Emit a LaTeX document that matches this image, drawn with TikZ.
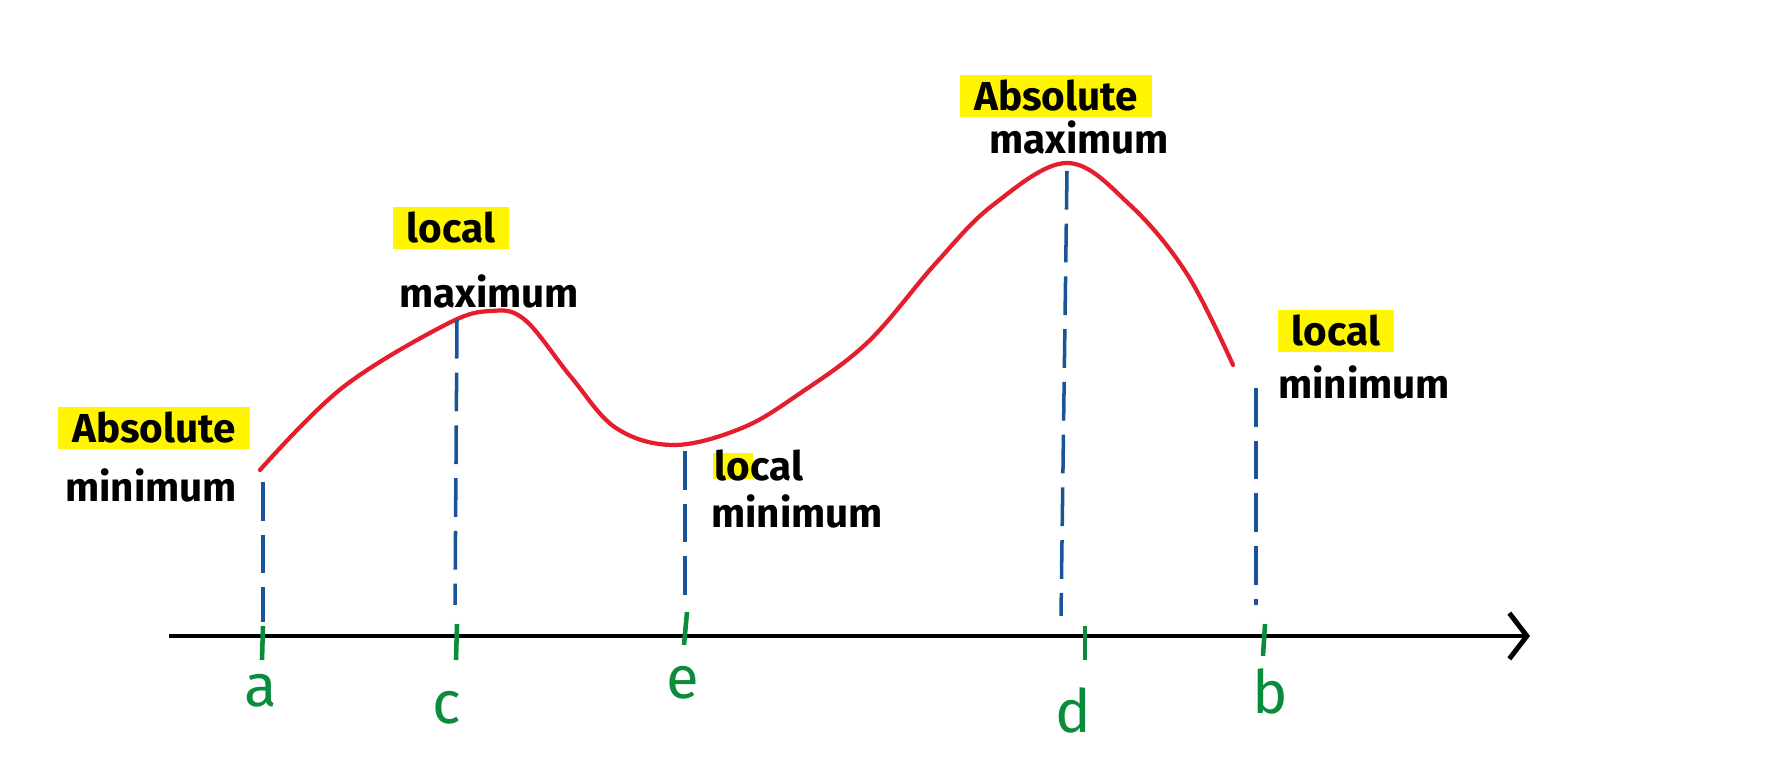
\documentclass[tikz,border=0pt]{standalone}
\usepackage{fontspec}
\setmainfont{Fira Sans}
\usetikzlibrary{positioning, arrows.meta}
\definecolor{curvered}{RGB}{228, 30, 45}
\definecolor{dropblue}{RGB}{25, 85, 150}
\definecolor{tickgreen}{RGB}{10, 140, 60}
\definecolor{marker}{RGB}{255, 245, 0}

\begin{document}
\begin{tikzpicture}[
    x=0.01cm, y=-0.01cm,
    note/.style={font=\fontsize{11.5}{14}\selectfont\bfseries, inner sep=1pt},
    hilite/.style={note, fill=marker, inner xsep=4pt, inner ysep=1.5pt},
    drop/.style={dropblue, line width=1pt, dash pattern=on 11pt off 4pt},
    tickline/.style={tickgreen, line width=1.3pt},
    letter/.style={tickgreen, font=\fontsize{17}{19}\selectfont}
]
    \useasboundingbox (0,0) rectangle (1790,768);

    % axis
    \coordinate (o) at (169,636);
    \coordinate (xend) at (1530,636);
    \draw[line width=1.4pt, -{Straight Barb[length=5pt, width=13pt]}] (o) -- (xend);

    % curve
    \draw[curvered, line width=1.2pt, line cap=round] plot[smooth, tension=0.6] coordinates {
        (260,470) (342,388) (445,325) (491,311) (525,320) (571,377)
        (616,428) (674,445) (742,428) (799,394) (868,342) (936,263)
        (993,205) (1067,163) (1130,205) (1187,274) (1233,365)};

    % points on the curve and feet of the drops
    \coordinate (pa) at (263,482);  \coordinate (fa) at (263,622);
    \coordinate (pc) at (457,320);  \coordinate (fc) at (455,605);
    \coordinate (pe) at (685,451);  \coordinate (fe) at (685,605);
    \coordinate (pd) at (1067,171); \coordinate (fd) at (1061,616);
    \coordinate (pb) at (1256,388); \coordinate (fb) at (1256,605);
    \foreach \p in {a,c,e,d,b}
        \draw[drop] (p\p) -- (f\p);

    % ticks
    \coordinate (ta1) at (263,626);  \coordinate (ta2) at (262,660);
    \coordinate (tc1) at (457,624);  \coordinate (tc2) at (456,660);
    \coordinate (te1) at (687,612);  \coordinate (te2) at (684,645);
    \coordinate (td1) at (1085,626); \coordinate (td2) at (1085,660);
    \coordinate (tb1) at (1265,624); \coordinate (tb2) at (1263,656);
    \foreach \t in {a,c,e,d,b}
        \draw[tickline] (t\t1) -- (t\t2);

    % letters
    \node[letter] (la) at (261,691) {a};
    \node[letter] (lc) at (447,708) {c};
    \node[letter] (le) at (683,683) {e};
    \node[letter] (ld) at (1073,710) {d};
    \node[letter] (lb) at (1270,691) {b};

    % labels
    \node[hilite] (amin1) at (154,428) {Absolute};
    \node[note] (amin2) at (151,485) {minimum};

    \node[hilite] (lmax1) at (451,228) {local};
    \node[note] (lmax2) at (489,291) {maximum};

    \fill[marker] (713,453) rectangle (753,479);
    \node[note] (lmin1) at (759,466) {local};
    \node[note] (lmin2) at (797,511) {minimum};

    \node[hilite] (amax1) at (1056,96) {Absolute};
    \node[note] (amax2) at (1079,137) {maximum};

    \node[hilite] (bmin1) at (1336,331) {local};
    \node[note] (bmin2) at (1364,382) {minimum};
\end{tikzpicture}
\end{document}
